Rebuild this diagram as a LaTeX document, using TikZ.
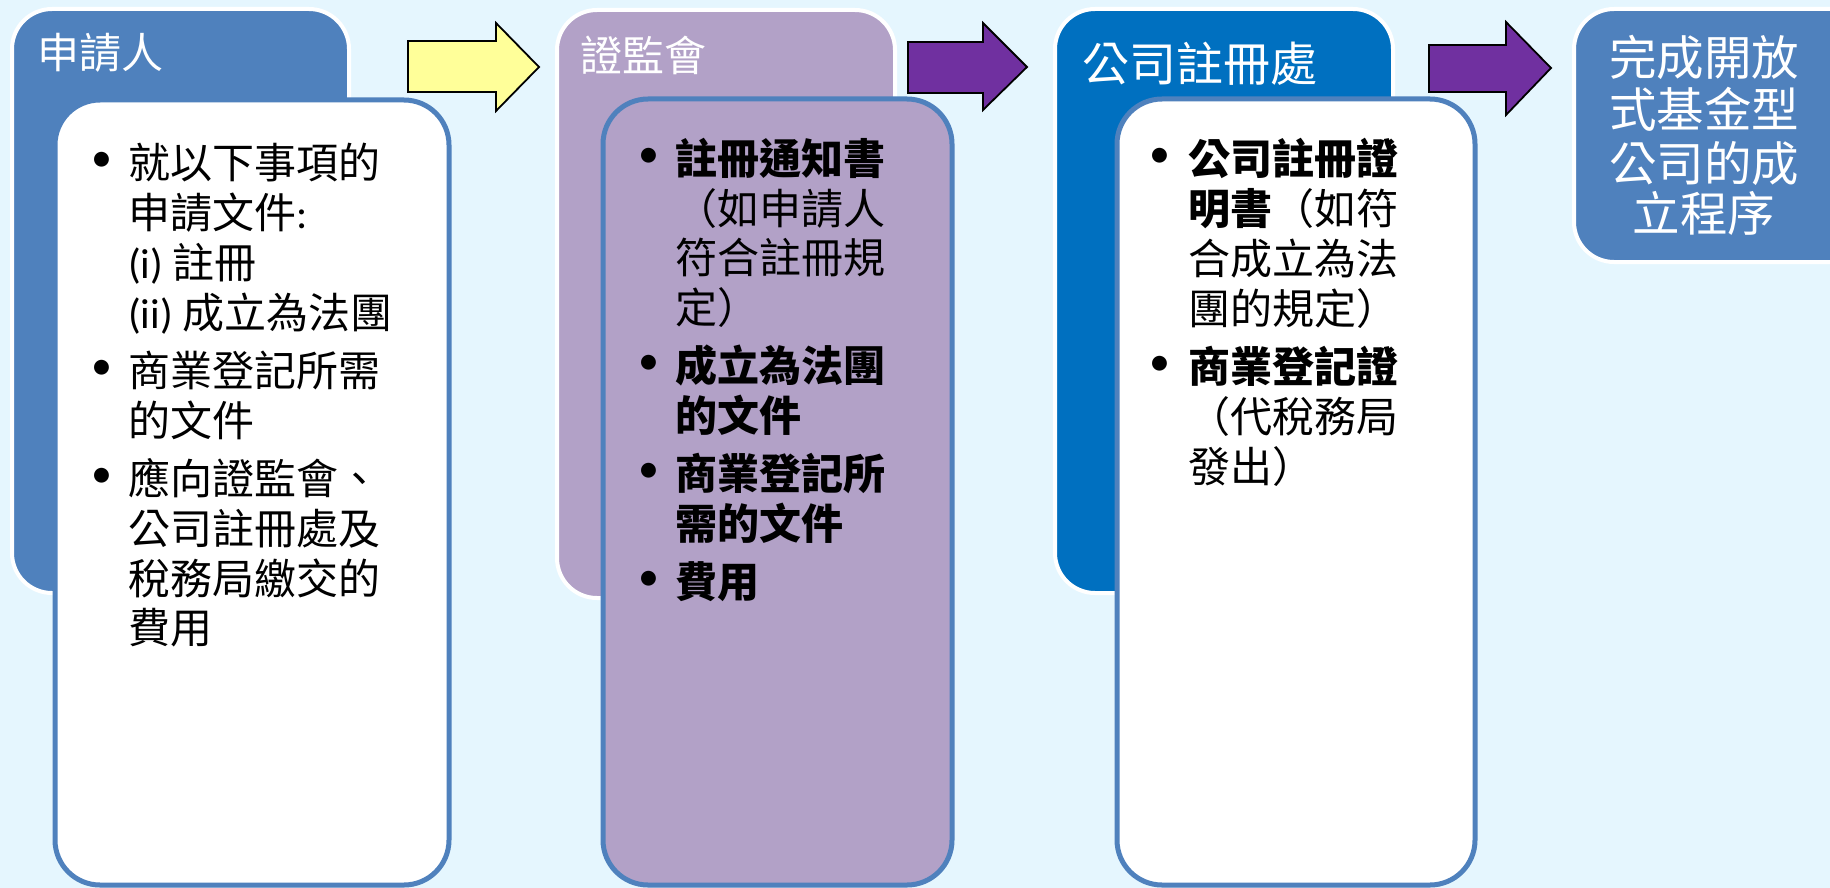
\documentclass[tikz,border=0pt]{standalone}
\usepackage{fontspec}
\setmainfont{Carlito}
\newfontfamily\cjk{Noto Sans CJK TC}
\definecolor{bg}{HTML}{E5F6FE}
\definecolor{cblue}{HTML}{4F81BD}
\definecolor{cpurple}{HTML}{B2A1C7}
\definecolor{cdark}{HTML}{0070C0}
\definecolor{cyellow}{HTML}{FFFF99}
\definecolor{carrow}{HTML}{7030A0}
\tikzset{
  outerbox/.style={draw=white,line width=4pt,rounded corners=40pt},
  innerbox/.style={draw=cblue,line width=5pt,rounded corners=45pt},
  blockarrow/.style={draw=black,line width=1.8pt,line join=miter},
  ttl/.style={anchor=west,inner sep=0pt,text=white,font=\cjk\fontsize{42}{50}\selectfont,text height=37pt,text depth=5pt},
  ttlb/.style={anchor=west,inner sep=0pt,text=white,font=\cjk\fontsize{47}{52}\selectfont,text height=41pt,text depth=6pt},
  body/.style={anchor=west,inner sep=0pt,text=black,font=\cjk\fontsize{42}{50}\selectfont,text height=37pt,text depth=5pt},
  bul/.style={anchor=center,inner sep=0pt,text=black,font=\fontsize{42}{50}\selectfont},
  fin/.style={anchor=center,inner sep=0pt,text=white,font=\cjk\fontsize{47.5}{52}\selectfont,text height=42pt,text depth=6pt},
}
\begin{document}
\begin{tikzpicture}[x=1pt,y=-1pt]
\useasboundingbox (0,0) rectangle (1830,888);
\fill[bg] (0,0) rectangle (1830,888);

% outer boxes
\draw[outerbox,fill=cblue] (12,9) rectangle (349,593);
\draw[outerbox,fill=cpurple] (557,10) rectangle (895,598);
\draw[outerbox,fill=cdark] (1055,9) rectangle (1393,593);
\draw[outerbox,fill=cblue] (1574,9) rectangle (1880,262);

% inner boxes
\draw[innerbox,fill=white] (55,100) rectangle (449,885);
\draw[innerbox,fill=cpurple] (603,99) rectangle (952,885);
\draw[innerbox,fill=white] (1117,99) rectangle (1475,885);

% block arrows
\draw[blockarrow,fill=cyellow] (408,41) -- (496,41) -- (496,23) -- (539,67) -- (496,111) -- (496,92) -- (408,92) -- cycle;
\draw[blockarrow,fill=carrow] (908,42) -- (983,42) -- (983,23) -- (1027,67) -- (983,110) -- (983,93) -- (908,93) -- cycle;
\draw[blockarrow,fill=carrow] (1429,45) -- (1506,45) -- (1506,22) -- (1551,68) -- (1506,115) -- (1506,92) -- (1429,92) -- cycle;

% titles
\node[ttl] (t1) at (37,53) {申請人};
\node[ttl] (t2) at (580,56) {證監會};
\node[ttlb] (t3) at (1082,64) {公司註冊處};

% box 1 text
\node[bul] (b11) at (102,162) {•};
\node[body] (l11) at (128,162) {就以下事項的};
\node[body] (l12) at (128,212) {申請文件{\rmfamily:}};
\node[body] (l13) at (128,262) {{\rmfamily(i) }註冊};
\node[body] (l14) at (128,312) {{\rmfamily(ii) }成立為法團};
\node[bul] (b12) at (102,370) {•};
\node[body] (l15) at (128,370) {商業登記所需};
\node[body] (l16) at (128,420) {的文件};
\node[bul] (b13) at (102,478) {•};
\node[body] (l17) at (128,478) {應向證監會、};
\node[body] (l18) at (128,528) {公司註冊處及};
\node[body] (l19) at (128,578) {稅務局繳交的};
\node[body] (l110) at (128,627) {費用};

% box 2 text
\node[bul] (b21) at (649,158) {•};
\node[body] (l21) at (675,158) {\bfseries 註冊通知書};
\node[body] (l22) at (675,208) {（如申請人};
\node[body] (l23) at (675,257) {符合註冊規};
\node[body] (l24) at (675,307) {定）};
\node[bul] (b22) at (649,365) {•};
\node[body] (l25) at (675,365) {\bfseries 成立為法團};
\node[body] (l26) at (675,415) {\bfseries 的文件};
\node[bul] (b23) at (649,473) {•};
\node[body] (l27) at (675,473) {\bfseries 商業登記所};
\node[body] (l28) at (675,523) {\bfseries 需的文件};
\node[bul] (b24) at (649,581) {•};
\node[body] (l29) at (675,581) {\bfseries 費用};

% box 3 text
\node[bul] (b31) at (1160,158) {•};
\node[body] (l31) at (1188,158) {{\bfseries 公司註冊證}};
\node[body] (l32) at (1188,208) {{\bfseries 明書}（如符};
\node[body] (l33) at (1188,258) {合成立為法};
\node[body] (l34) at (1188,308) {團的規定）};
\node[bul] (b32) at (1160,366) {•};
\node[body] (l35) at (1188,366) {{\bfseries 商業登記證}};
\node[body] (l36) at (1188,416) {（代稅務局};
\node[body] (l37) at (1188,466) {發出）};

% box 4 text
\node[fin] (f1) at (1704,58) {完成開放};
\node[fin] (f2) at (1704,110) {式基金型};
\node[fin] (f3) at (1704,163) {公司的成};
\node[fin] (f4) at (1704,213) {立程序};
\end{tikzpicture}
\end{document}
